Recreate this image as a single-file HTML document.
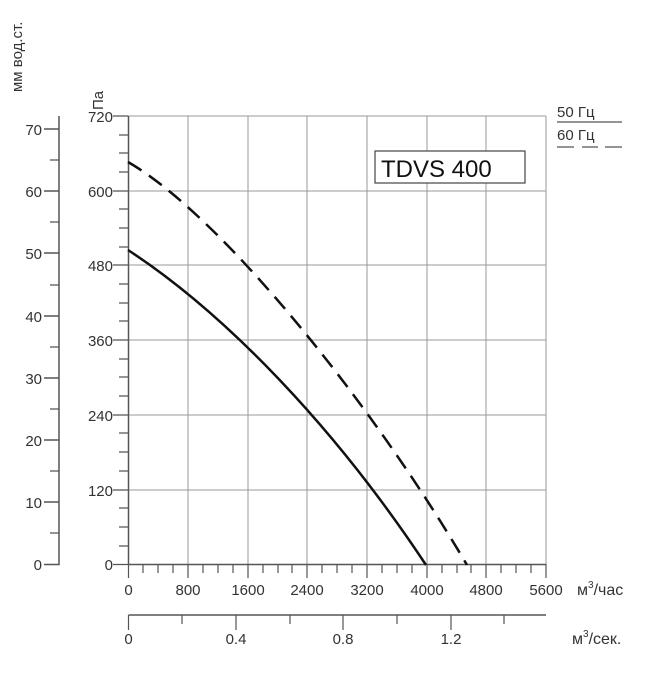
<!DOCTYPE html>
<html><head><meta charset="utf-8"><style>
body{margin:0;background:#fff}
svg text{font-family:"Liberation Sans",sans-serif;fill:#333}
</style></head><body>
<svg width="650" height="673" viewBox="0 0 650 673" xmlns="http://www.w3.org/2000/svg">
<g stroke="#999" stroke-width="1" fill="none">
<path d="M188 116V564M248 116V564M307 116V564M367 116V564M427 116V564M486 116V564M546 116V564"/>
<path d="M128 116H546M128 191H546M128 265H546M128 340H546M128 415H546M128 490H546"/>
</g>
<g stroke="#555" stroke-width="1.5" fill="none">
<path d="M128.5 116V564.5H546"/>
<path d="M59 116V564.5H44M44 129H59M44 191H59M44 253H59M44 316H59M44 378H59M44 440H59M44 502H59"/>
<path d="M128.5 615H546"/>
</g>
<g stroke="#555" stroke-width="1.2">
<path d="M50 160H59M50 222H59M50 285H59M50 347H59M50 409H59M50 471H59M50 533H59"/>
<path d="M113 116H128M113 191H128M113 265H128M113 340H128M113 415H128M113 490H128M113 564.5H128"/>
<path d="M119 135H128M119 153H128M119 172H128M119 209H128M119 228H128M119 247H128M119 284H128M119 303H128M119 321H128M119 359H128M119 377H128M119 396H128M119 433H128M119 452H128M119 471H128M119 508H128M119 527H128M119 546H128"/>
<path d="M128.5 564V578M188 564V578M248 564V578M307 564V578M367 564V578M427 564V578M486 564V578M546 564V578"/>
<path d="M143 564V573M158 564V573M173 564V573M203 564V573M218 564V573M233 564V573M263 564V573M278 564V573M292 564V573M322 564V573M337 564V573M352 564V573M382 564V573M397 564V573M412 564V573M442 564V573M457 564V573M471 564V573M501 564V573M516 564V573M531 564V573"/>
<path d="M128.5 615V630M236 615V630M343 615V630M451 615V630M182 615V624M290 615V624M397 615V624M504 615V624"/>
</g>
<path d="M128 250 C220 310 330 420 426 565" stroke="#111" stroke-width="2.5" fill="none"/>
<path d="M128 162 C220 215 370 400 467 565" stroke="#111" stroke-width="2.5" fill="none" stroke-dasharray="16,9"/>
<rect x="375" y="151" width="150" height="32" fill="#fff" stroke="#444" stroke-width="1.2"/>
<text x="381" y="177" font-size="24" style="fill:#111">TDVS 400</text>
<g font-size="15" text-anchor="end">
<text x="42" y="135">70</text><text x="42" y="197">60</text><text x="42" y="259">50</text><text x="42" y="322">40</text><text x="42" y="384">30</text><text x="42" y="446">20</text><text x="42" y="508">10</text><text x="42" y="570">0</text>
<text x="113" y="122">720</text><text x="113" y="197">600</text><text x="113" y="271">480</text><text x="113" y="346">360</text><text x="113" y="421">240</text><text x="113" y="496">120</text><text x="113" y="570">0</text>
</g>
<g font-size="15" text-anchor="middle">
<text x="128.5" y="595">0</text><text x="188" y="595">800</text><text x="248" y="595">1600</text><text x="307" y="595">2400</text><text x="367" y="595">3200</text><text x="427" y="595">4000</text><text x="486" y="595">4800</text><text x="546" y="595">5600</text>
<text x="128.5" y="644">0</text><text x="236" y="644">0.4</text><text x="343" y="644">0.8</text><text x="451" y="644">1.2</text>
</g>
<text x="577" y="595" font-size="16">м<tspan font-size="10" dy="-7">3</tspan><tspan dy="7">/час</tspan></text>
<text x="572" y="644" font-size="16">м<tspan font-size="10" dy="-7">3</tspan><tspan dy="7">/сек.</tspan></text>
<text transform="translate(22,92) rotate(-90)" font-size="15">мм вод.ст.</text>
<text transform="translate(103,110) rotate(-90)" font-size="15">Па</text>
<text x="557" y="117" font-size="15">50 Гц</text>
<path d="M557 122H622" stroke="#555" stroke-width="1.3"/>
<text x="557" y="140" font-size="15">60 Гц</text>
<path d="M557 147H574M582 147H598M605 147H622" stroke="#555" stroke-width="1.3"/>
</svg>
</body></html>
